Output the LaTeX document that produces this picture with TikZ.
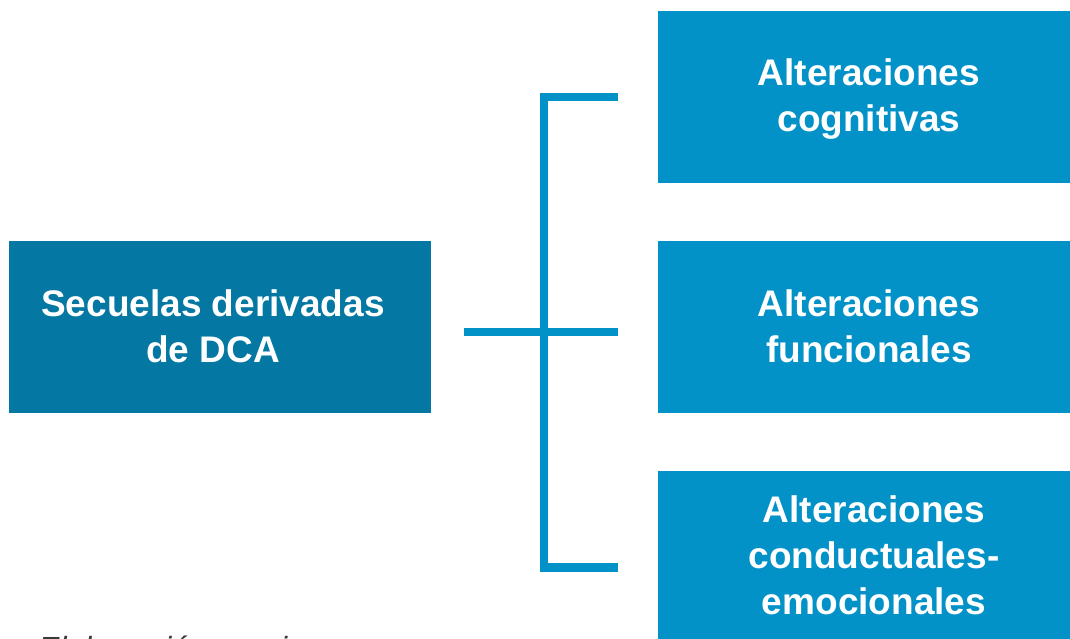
\documentclass[tikz,border=0pt]{standalone}
\usepackage{fontspec}
\setmainfont{Liberation Sans}
\usetikzlibrary{calc}
\definecolor{boxlight}{HTML}{0392C8}
\definecolor{boxdark}{HTML}{0477A2}
\definecolor{notegray}{HTML}{3A3A3A}
\begin{document}
\begin{tikzpicture}[x=1pt,y=-1pt,
  box/.style={draw=none,fill=boxlight,minimum width=412pt,minimum height=172pt,inner sep=0pt,outer sep=0pt},
  mainbox/.style={box,fill=boxdark,minimum width=422pt},
  lbl/.style={text=white,font=\fontsize{37}{46}\selectfont\bfseries,align=center,anchor=base,inner sep=0pt},
  link/.style={draw=boxlight,line width=8.3pt,line join=miter}]
\useasboundingbox (0,0) rectangle (1070,638);
\clip (0,0) rectangle (1070,638);
% boxes
\node[mainbox] (src) at (220,327) {};
\node[box] (b1) at (864,97) {};
\node[box] (b2) at (864,327) {};
\node[box] (b3) at (864,557) {};
% labels (anchor = baseline of last line)
\node[lbl] (tsrc) at (213,362) {Secuelas derivadas\\de DCA};
\node[lbl] (t1) at (869,131) {Alteraciones\\cognitivas};
\node[lbl] (t2) at (869,362) {Alteraciones\\funcionales};
\node[lbl] (t3) at (874,614) {Alteraciones\\conductuales-\\emocionales};
% note
\node[anchor=base west,inner sep=0pt,text=notegray,font=\fontsize{32}{38}\selectfont\itshape] (note) at (38,659) {Elaboración propia};
% connector coordinates
\coordinate (m0) at ($(src.east)+(33,5.3)$);
\coordinate (m1) at ($(b1.west)+(-40.3,-0.3)$);
\coordinate (m2) at ($(b2.west)+(-40.3,5.3)$);
\coordinate (m3) at ($(b3.west)+(-40.3,10.5)$);
\coordinate (spine) at ($(m1)+(-73.5,0)$);
% bracket
\draw[link] (m1) -- (spine) |- (m3);
\draw[link] (m0) -- (m2);
\end{tikzpicture}
\end{document}
